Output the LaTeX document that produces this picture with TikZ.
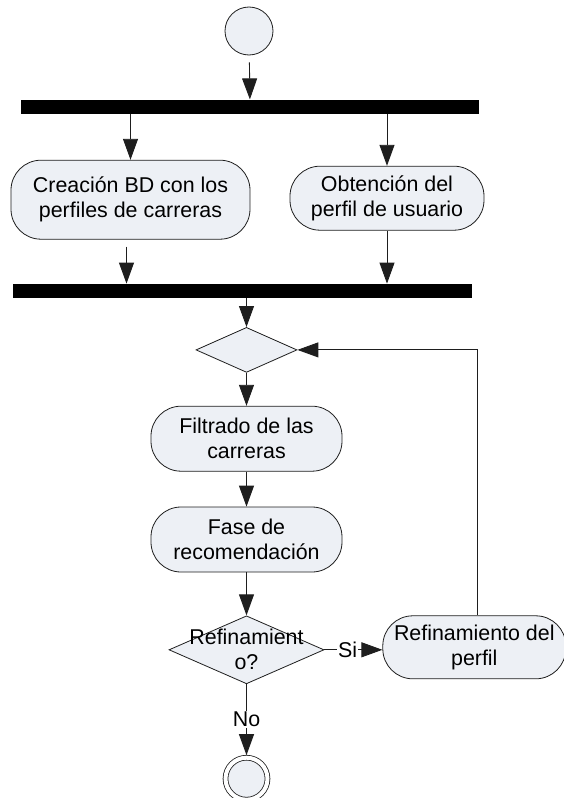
\documentclass[tikz,border=0pt]{standalone}
\usepackage{fontspec}
\setmainfont{Liberation Sans}
\usepackage{tikz}
\usetikzlibrary{arrows.meta, shapes, shapes.geometric, positioning, calc}
\definecolor{actfill}{RGB}{237,240,245}
\definecolor{linegray}{RGB}{30,30,30}

\begin{document}
\begin{tikzpicture}[
    % Styles
    every node/.style={font=\fontsize{21.4}{25}\selectfont},
    initial/.style={circle, draw=linegray, fill=actfill, line width=0.8pt, minimum size=48pt, inner sep=0pt},
    final/.style={circle, draw=linegray, double, double distance=4pt, fill=actfill, line width=0.8pt, minimum size=42pt, inner sep=0pt, outer sep=2.5pt},
    syncbar/.style={rectangle, fill=black, minimum width=458pt, minimum height=14pt, inner sep=0pt},
    activity/.style={rectangle, draw=linegray, fill=actfill, rounded corners=30pt, line width=0.8pt, minimum height=65pt, inner sep=4pt, align=center},
    branch/.style={diamond, draw=linegray, fill=actfill, line width=0.8pt, inner sep=0pt},
    arrow/.style={-{Triangle[length=21pt, width=15pt]}, line width=0.9pt, draw=linegray},
    lbl/.style={fill=white, inner sep=1pt}
]
\useasboundingbox (-249pt,31pt) rectangle (315pt,-767pt);

% 1. INICIO
\node[initial] (start) at (0, 0) {};

% 2. FORK
\node[syncbar, below=44pt of start, xshift=1pt] (fork) {};

\node[activity, below=46pt of fork, xshift=-119.5pt, minimum width=239pt, minimum height=79pt] (creacion) {Creación BD con los\\perfiles de carreras};

\node[activity, below=52pt of fork, xshift=137pt, minimum width=194pt, minimum height=64pt] (obtencion) {Obtención del\\perfil de usuario};

% 3. JOIN
\node[syncbar, below=44pt of creacion, xshift=112pt, minimum width=459pt] (join) {};

% 4. FLUJO PRINCIPAL
\node[branch, below=29pt of join, xshift=4pt, minimum width=101pt, minimum height=45pt] (merge) {};

\node[activity, below=33pt of merge, minimum width=191pt] (filtrado) {Filtrado de las\\carreras};

\node[activity, below=35pt of filtrado, minimum width=191pt] (fase) {Fase de\\recomendación};

\node[branch, below=43pt of fase, minimum width=155pt, minimum height=68pt,
    label={[align=center]center:Refinamient\\o?}] (decision) {};

\node[activity, right=58pt of decision, yshift=2.5pt, minimum width=183pt, minimum height=63pt] (refinar) {Refinamiento del\\perfil};

% 5. FIN
\node[final, below=71pt of decision] (finish) {};

% CONECTORES
\draw[arrow, shorten <=7pt] (start) -- (fork);
\draw[arrow] (fork.south -| creacion) -- (creacion);
\draw[arrow] (fork.south -| obtencion) -- (obtencion);

\draw[arrow, shorten <=7pt] ([xshift=-4pt]creacion.south) -- ([xshift=-4pt]creacion.south |- join.north);
\draw[arrow] (obtencion) -- (obtencion |- join.north);

\draw[arrow] (join.south -| merge) -- (merge);
\draw[arrow] (merge) -- (filtrado);
\draw[arrow] (filtrado) -- (fase);
\draw[arrow] (fase) -- (decision);

\draw[arrow] (decision) -- node[lbl, pos=0.4] {Si} (decision -| refinar.west);
\draw[arrow] ([xshift=3pt]refinar.north) |- (merge);
\draw[arrow] (decision) -- node[lbl, pos=0.5] {No} (finish);

\end{tikzpicture}
\end{document}
